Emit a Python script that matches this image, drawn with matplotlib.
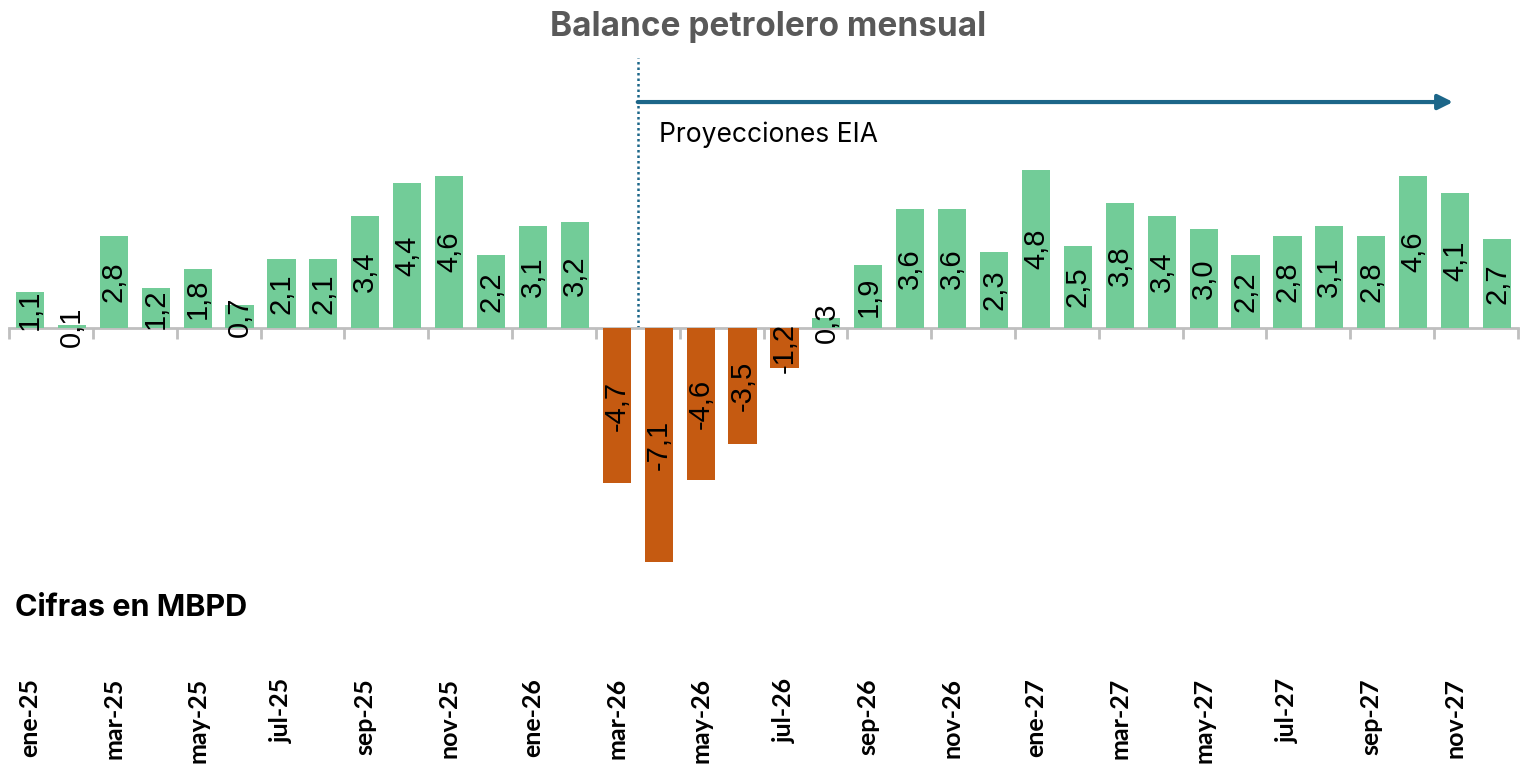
import numpy as np
import matplotlib
matplotlib.use("Agg")
import matplotlib.pyplot as plt

# monthly oil balance, MBPD (ene-25 .. dic-27); EIA projections from abr-26
months = ["ene", "feb", "mar", "abr", "may", "jun", "jul", "ago", "sep", "oct", "nov", "dic"]
years = ["25", "26", "27"]
labels = [f"{m}-{y}" for y in years for m in months]
values = [1.1, 0.1, 2.8, 1.2, 1.8, 0.7, 2.1, 2.1, 3.4, 4.4, 4.6, 2.2,
          3.1, 3.2, -4.7, -7.1, -4.6, -3.5, -1.2, 0.3, 1.9, 3.6, 3.6, 2.3,
          4.8, 2.5, 3.8, 3.4, 3.0, 2.2, 2.8, 3.1, 2.8, 4.6, 4.1, 2.7]
PROJ_START = 14.5   # boundary between mar-26 and abr-26

GREEN, ORANGE, BLUE, GRID = "#72CC98", "#C55A11", "#1C6689", "#BFBFBF"

W, H = 1528, 767
fig = plt.figure(figsize=(W / 100, H / 100), dpi=100)
ax = fig.add_axes([9 / W, 1 - 600 / H, (1518 - 9) / W, 560 / H])

x = np.arange(len(values))
vals = np.array(values)
cols = [GREEN if v >= 0 else ORANGE for v in vals]
ax.bar(x, vals, width=0.67, color=cols, zorder=2)
for xi, v in zip(x, vals):
    ax.text(xi, v / 2, f"{v:.1f}".replace(".", ","), rotation=90, ha="center", va="center",
            fontsize=21, family="Liberation Sans", color="black", zorder=3)

ax.set_xlim(-0.5, len(values) - 0.5)
ax.set_ylim(-8.24, 8.73)
ax.set_yticks([])
for s in ("top", "right", "left"):
    ax.spines[s].set_visible(False)
ax.spines["bottom"].set_position(("data", 0))
ax.spines["bottom"].set_color(GRID)
ax.spines["bottom"].set_linewidth(2)
ax.spines["bottom"].set_zorder(1)

# tick marks on every second category boundary, labels far below
ax.set_xticks(np.arange(-0.5, len(values), 2))
ax.set_xticklabels([])
ax.tick_params(axis="x", which="major", length=8, width=2, color=GRID)
ax.set_xticks(x[::2], labels[::2], minor=True)
ax.tick_params(axis="x", which="minor", length=0, pad=252)
for t in ax.get_xticklabels(minor=True):
    t.set_rotation(90)
    t.set_fontsize(18)
    t.set_fontweight("bold")
    t.set_family("Lato")
    t.set_va("top")
    t.set_ha("center")

# projection marker
ax.plot([PROJ_START, PROJ_START], [0, 8.18], color=BLUE, ls=(0, (1, 1.2)), lw=1.8, zorder=1)
ax.annotate("", xy=(33.95, 6.85), xytext=(PROJ_START, 6.85),
            arrowprops=dict(arrowstyle="-|>", color=BLUE, lw=3, mutation_scale=22,
                            shrinkA=0, shrinkB=0))
ax.text(15.0, 5.85, "Proyecciones EIA", fontsize=19, family="Inter", va="center", ha="left")

fig.text(768 / W, 1 - 27 / H, "Balance petrolero mensual", fontsize=24, fontweight="bold",
         family="Inter", color="#595959", ha="center", va="center")
fig.text(15 / W, 1 - 608 / H, "Cifras en MBPD", fontsize=22, fontweight="bold",
         family="Inter", color="black", ha="left", va="center")

fig.savefig("out.png", dpi=100)
